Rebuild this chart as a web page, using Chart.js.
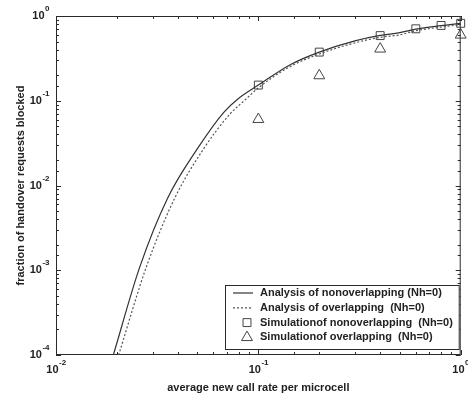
<!DOCTYPE html>
<html>
<head>
<meta charset="utf-8">
<script src="https://cdn.jsdelivr.net/npm/chart.js@4.4.1/dist/chart.umd.min.js"></script>
<style>
  html, body { margin: 0; padding: 0; background: #fff; }
  #contenedor { width: 468px; height: 400px; }
</style>
</head>
<body>
<div id="contenedor"><canvas id="bloqueo"></canvas></div>
<script>
// analysis, nonoverlapping microcells
var analisisNoSolapeX = [0.0192, 0.0259, 0.0356, 0.050, 0.0673, 0.0792, 0.1, 0.1445, 0.2, 0.3, 0.4, 0.5, 0.6, 0.8, 1.0];
var analisisNoSolapeY = [1e-4, 1.08e-3, 7.08e-3, 2.72e-2, 7.25e-2, 0.105, 0.153, 0.268, 0.375, 0.509, 0.59, 0.635, 0.70, 0.77, 0.82];
// analysis, overlapping microcells
var analisisSolapeX = [0.0204, 0.0279, 0.0386, 0.0537, 0.0725, 0.0855, 0.1, 0.1445, 0.2, 0.3, 0.4, 0.5, 0.6, 0.8, 1.0];
var analisisSolapeY = [1e-4, 1.08e-3, 7.08e-3, 2.72e-2, 7.0e-2, 0.101, 0.142, 0.255, 0.356, 0.482, 0.56, 0.60, 0.67, 0.74, 0.79];
// simulation results
var simNoSolapeX = [0.1, 0.2, 0.4, 0.6, 0.8, 1.0];
var simNoSolapeY = [0.153, 0.375, 0.587, 0.706, 0.774, 0.82];
var simSolapeX = [0.1, 0.2, 0.4, 1.0];
var simSolapeY = [0.0604, 0.198, 0.409, 0.598];

var etiquetas = [
    "Analysis of nonoverlapping (Nh=0)",
    "Analysis of overlapping  (Nh=0)",
    "Simulationof nonoverlapping  (Nh=0)",
    "Simulationof overlapping  (Nh=0)"
];
var tituloX = "average new call rate per microcell";
var tituloY = "fraction of handover requests blocked";

function puntos(xs, ys) {
    return xs.map(function (x, i) { return { x: x, y: ys[i] }; });
}

function esDecada(v) {
    var l = Math.log10(v);
    return Math.abs(l - Math.round(l)) < 1e-6;
}

var FUENTE = '"Liberation Sans", Arial, Helvetica, sans-serif';
var TINTA = '#222';

// writes 10^n with a raised exponent
function potencia(ctx, n, x, y, alinear) {
    ctx.font = 'bold 11px ' + FUENTE;
    var wb = ctx.measureText('10').width;
    ctx.font = 'bold 8px ' + FUENTE;
    var exp = String(n);
    var we = ctx.measureText(exp).width;
    var inicio = alinear === 'right' ? x - wb - we : x - (wb + we) / 2;
    ctx.textAlign = 'left';
    ctx.textBaseline = 'middle';
    ctx.font = 'bold 11px ' + FUENTE;
    ctx.fillText('10', inicio, y);
    ctx.font = 'bold 8px ' + FUENTE;
    ctx.fillText(exp, inicio + wb + 0.5, y - 7);
}

// box, inward ticks on all four sides and decade labels
var marco = {
    id: 'marco',
    beforeDatasetsDraw: function (chart) {
        var ctx = chart.ctx, a = chart.chartArea;
        var sx = chart.scales.x, sy = chart.scales.y;
        ctx.save();
        ctx.strokeStyle = '#2a2a2a';
        ctx.lineWidth = 1;
        ctx.strokeRect(a.left + 0.5, a.top + 0.5, a.right - a.left - 1, a.bottom - a.top - 1);
        ctx.beginPath();
        sx.ticks.forEach(function (t) {
            var px = Math.round(sx.getPixelForValue(t.value)) + 0.5;
            var largo = esDecada(t.value) ? 5 : 3;
            ctx.moveTo(px, a.bottom); ctx.lineTo(px, a.bottom - largo);
            ctx.moveTo(px, a.top); ctx.lineTo(px, a.top + largo);
        });
        sy.ticks.forEach(function (t) {
            var py = Math.round(sy.getPixelForValue(t.value)) + 0.5;
            var largo = esDecada(t.value) ? 5 : 3;
            ctx.moveTo(a.left, py); ctx.lineTo(a.left + largo, py);
            ctx.moveTo(a.right, py); ctx.lineTo(a.right - largo, py);
        });
        ctx.stroke();

        ctx.fillStyle = TINTA;
        sx.ticks.forEach(function (t) {
            if (!esDecada(t.value)) return;
            potencia(ctx, Math.round(Math.log10(t.value)), sx.getPixelForValue(t.value), a.bottom + 15, 'center');
        });
        sy.ticks.forEach(function (t) {
            if (!esDecada(t.value)) return;
            potencia(ctx, Math.round(Math.log10(t.value)), a.left - 7, sy.getPixelForValue(t.value), 'right');
        });
        ctx.restore();
    }
};

// boxed legend in the lower right corner of the plot
var leyenda = {
    id: 'leyenda',
    afterDatasetsDraw: function (chart) {
        var ctx = chart.ctx, a = chart.chartArea;
        var der = a.right - 1, abajo = a.bottom - 5;
        var izq = a.left + 169, arriba = abajo - 65;
        ctx.save();
        ctx.fillStyle = '#fff';
        ctx.fillRect(izq, arriba, der - izq, abajo - arriba);
        ctx.strokeStyle = '#2a2a2a';
        ctx.lineWidth = 1;
        ctx.strokeRect(izq + 0.5, arriba + 0.5, der - izq - 1, abajo - arriba - 1);
        chart.data.datasets.forEach(function (ds, i) {
            var y = arriba + 8 + i * 14.8;
            ctx.strokeStyle = ds.borderColor;
            ctx.lineWidth = ds.borderWidth;
            if (ds.showLine) {
                ctx.setLineDash(ds.borderDash || []);
                ctx.beginPath();
                ctx.moveTo(izq + 8, y);
                ctx.lineTo(izq + 28, y);
                ctx.stroke();
                ctx.setLineDash([]);
            } else {
                ctx.fillStyle = 'rgba(0,0,0,0)';
                Chart.helpers.drawPoint(ctx, {
                    pointStyle: ds.pointStyle,
                    radius: ds.pointRadius,
                    rotation: 0,
                    borderWidth: ds.borderWidth
                }, izq + 22, y);
            }
            ctx.fillStyle = TINTA;
            ctx.font = 'bold 11px ' + FUENTE;
            ctx.textAlign = 'left';
            ctx.textBaseline = 'middle';
            ctx.fillText(ds.label, izq + 35, y);
        });
        ctx.restore();
    }
};

var grafico = new Chart(document.getElementById('bloqueo'), {
    type: 'scatter',
    data: {
        datasets: [{
            label: etiquetas[0],
            data: puntos(analisisNoSolapeX, analisisNoSolapeY),
            showLine: true,
            cubicInterpolationMode: 'monotone',
            borderColor: '#333',
            borderWidth: 1.2,
            pointRadius: 0
        }, {
            label: etiquetas[1],
            data: puntos(analisisSolapeX, analisisSolapeY),
            showLine: true,
            cubicInterpolationMode: 'monotone',
            borderColor: '#555',
            borderWidth: 1.2,
            borderDash: [2, 2],
            pointRadius: 0
        }, {
            label: etiquetas[2],
            data: puntos(simNoSolapeX, simNoSolapeY),
            showLine: false,
            pointStyle: 'rect',
            pointRadius: 5.6,
            borderColor: '#444',
            borderWidth: 1,
            backgroundColor: 'rgba(0,0,0,0)',
            clip: false
        }, {
            label: etiquetas[3],
            data: puntos(simSolapeX, simSolapeY),
            showLine: false,
            pointStyle: 'triangle',
            pointRadius: 6.3,
            borderColor: '#444',
            borderWidth: 1,
            backgroundColor: 'rgba(0,0,0,0)',
            clip: false
        }]
    },
    options: {
        responsive: true,
        maintainAspectRatio: false,
        animation: false,
        layout: { padding: { top: 16, right: 7, left: 0, bottom: 0 } },
        plugins: { legend: { display: false }, tooltip: { enabled: false } },
        scales: {
            x: {
                type: 'logarithmic',
                min: 0.01,
                max: 1,
                grid: { display: false },
                border: { display: false },
                ticks: { display: false, autoSkip: false },
                title: {
                    display: true,
                    text: tituloX,
                    color: TINTA,
                    font: { family: FUENTE, size: 11, weight: 'bold' },
                    padding: { top: 5, bottom: 5 }
                },
                afterFit: function (scale) { scale.height = 45; }
            },
            y: {
                type: 'logarithmic',
                min: 1e-4,
                max: 1,
                grid: { display: false },
                border: { display: false },
                ticks: { display: false, autoSkip: false },
                title: {
                    display: true,
                    text: tituloY,
                    color: TINTA,
                    font: { family: FUENTE, size: 11, weight: 'bold' },
                    padding: { top: 14, bottom: 14 }
                },
                afterFit: function (scale) { scale.width = 56; }
            }
        }
    },
    plugins: [marco, leyenda]
});
</script>
</body>
</html>
